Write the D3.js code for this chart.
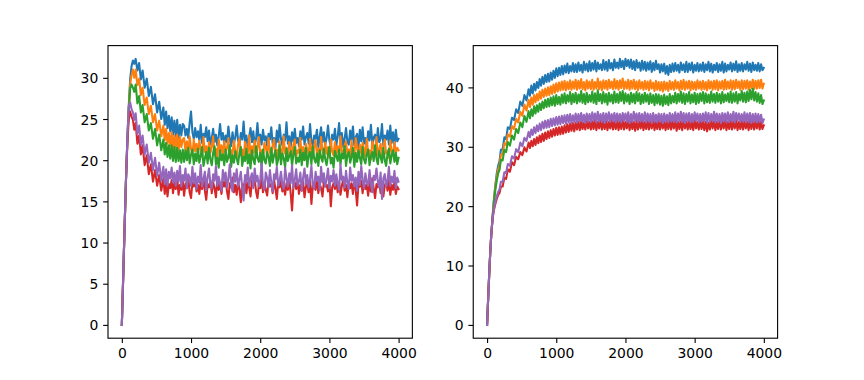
<!DOCTYPE html>
<html>
<head>
<meta charset="utf-8">
<script src="https://cdn.jsdelivr.net/npm/d3@7"></script>
<style>
  html, body { margin: 0; padding: 0; background: #fff; }
  svg { display: block; }
  text { font-family: "DejaVu Sans", sans-serif; font-size: 13.9px; fill: #000; }
</style>
</head>
<body>
<svg id="chart" width="864" height="380"></svg>
<script>
// ---- shared step values (x) ----
const steps = [
  0, 15, 30, 45, 60, 80, 100, 120, 140, 160,
  180, 200, 225, 250, 275, 300, 330, 360, 390, 420,
  450, 480, 510, 540, 570, 600, 620, 640, 660, 680,
  700, 720, 740, 760, 780, 800, 820, 840, 860, 880,
  900, 920, 940, 960, 980, 1000, 1020, 1040, 1060, 1080,
  1100, 1120, 1140, 1160, 1180, 1200, 1220, 1240, 1260, 1280,
  1300, 1320, 1340, 1360, 1380, 1400, 1420, 1440, 1460, 1480,
  1500, 1520, 1540, 1560, 1580, 1600, 1620, 1640, 1660, 1680,
  1700, 1720, 1740, 1760, 1780, 1800, 1820, 1840, 1860, 1880,
  1900, 1920, 1940, 1960, 1980, 2000, 2020, 2040, 2060, 2080,
  2100, 2120, 2140, 2160, 2180, 2200, 2220, 2240, 2260, 2280,
  2300, 2320, 2340, 2360, 2380, 2400, 2420, 2440, 2460, 2480,
  2500, 2520, 2540, 2560, 2580, 2600, 2620, 2640, 2660, 2680,
  2700, 2720, 2740, 2760, 2780, 2800, 2820, 2840, 2860, 2880,
  2900, 2920, 2940, 2960, 2980, 3000, 3020, 3040, 3060, 3080,
  3100, 3120, 3140, 3160, 3180, 3200, 3220, 3240, 3260, 3280,
  3300, 3320, 3340, 3360, 3380, 3400, 3420, 3440, 3460, 3480,
  3500, 3520, 3540, 3560, 3580, 3600, 3620, 3640, 3660, 3680,
  3700, 3720, 3740, 3760, 3780, 3800, 3820, 3840, 3860, 3880,
  3900, 3920, 3940, 3960, 3980, 3999
];

// ---- left panel series ----
const leftBlue = [
  0, 4.4, 8.9, 13.3, 17.6, 22.6, 26.6, 29.8, 31.4, 32.1,
  31.7, 32.3, 30.9, 31.8, 29.8, 30.9, 28.8, 29.9, 27.8, 28.9,
  26.8, 28.0, 25.8, 27.1, 25.0, 26.4, 24.3, 25.9, 23.9, 25.4,
  23.5, 25.2, 23.1, 24.8, 22.9, 24.9, 22.7, 24.3, 23.0, 24.4,
  24.2, 23.0, 23.8, 22.7, 24.5, 25.9, 23.4, 22.6, 23.9, 22.8,
  23.5, 22.4, 24.3, 22.1, 23.2, 22.8, 24.0, 22.3, 23.6, 21.9,
  22.7, 23.8, 22.2, 23.1, 21.8, 22.9, 24.4, 22.5, 23.3, 21.9,
  23.0, 22.2, 24.1, 22.6, 21.7, 23.4, 22.0, 22.8, 24.2, 22.4,
  21.9, 23.3, 22.5, 24.7, 22.1, 23.0, 21.6, 22.8, 23.9, 22.2,
  23.5, 21.8, 22.6, 24.5, 22.3, 23.1, 21.9, 23.7, 22.4, 22.9,
  21.7, 23.2, 22.5, 24.0, 22.0, 22.7, 21.5, 23.6, 22.2, 24.3,
  22.6, 21.8, 23.1, 22.4, 24.6, 22.0, 22.9, 21.6, 23.4, 22.3,
  23.8, 22.1, 22.7, 21.7, 23.5, 22.5, 24.1, 21.9, 22.8, 23.3,
  22.0, 24.4, 22.3, 21.8, 23.0, 22.6, 23.7, 21.6, 22.9, 24.0,
  22.2, 23.4, 21.9, 22.7, 24.2, 22.4, 21.7, 23.1, 22.5, 23.8,
  21.8, 22.9, 24.5, 22.1, 23.3, 21.6, 22.6, 23.9, 22.2, 21.9,
  23.6, 22.4, 24.1, 21.8, 22.8, 23.2, 21.5, 23.7, 22.3, 24.0,
  22.0, 22.7, 21.6, 23.5, 22.4, 24.3, 21.9, 22.8, 23.1, 21.7,
  23.9, 22.2, 22.6, 24.4, 21.8, 23.0, 22.5, 23.6, 21.9, 24.2,
  22.1, 23.4, 21.8, 23.7, 22.3, 22.6
];
const leftOrange = [
  0, 4.4, 8.9, 13.3, 17.6, 22.5, 26.3, 29.2, 30.3, 31.0,
  30.0, 31.0, 29.1, 29.9, 27.9, 28.8, 26.7, 27.6, 25.6, 26.6,
  24.6, 25.6, 23.6, 24.8, 22.9, 24.2, 22.4, 23.8, 22.0, 23.3,
  21.7, 23.4, 21.5, 23.0, 21.4, 23.1, 21.2, 22.8, 21.6, 22.5,
  22.7, 21.0, 22.3, 20.8, 22.9, 21.4, 20.7, 22.5, 21.1, 22.0,
  20.6, 22.4, 21.3, 20.5, 22.8, 21.0, 21.7, 20.4, 22.2, 20.9,
  21.6, 22.9, 20.6, 21.4, 20.2, 22.5, 21.1, 21.8, 20.5, 22.3,
  20.8, 21.5, 22.7, 20.3, 21.2, 20.7, 22.4, 21.0, 20.4, 21.9,
  22.6, 20.6, 21.3, 20.1, 22.2, 21.4, 20.8, 23.0, 20.5, 21.7,
  20.9, 22.4, 20.3, 21.6, 22.8, 20.7, 21.2, 20.2, 22.1, 21.5,
  20.6, 22.7, 21.0, 20.4, 21.8, 22.5, 20.5, 21.3, 20.0, 22.3,
  21.1, 20.6, 22.9, 20.8, 21.5, 20.3, 22.2, 21.4, 20.6, 21.9,
  22.5, 20.4, 21.2, 20.9, 22.7, 20.5, 21.6, 20.1, 22.0, 21.3,
  20.7, 22.6, 21.0, 20.3, 21.8, 22.4, 20.6, 21.4, 20.2, 22.8,
  21.2, 20.5, 22.1, 20.8, 21.6, 20.3, 22.5, 21.0, 20.6, 22.2,
  20.9, 21.7, 20.4, 22.9, 21.1, 20.5, 21.8, 22.3, 20.7, 21.3,
  20.2, 22.4, 21.0, 20.6, 22.7, 21.5, 20.3, 21.9, 20.8, 22.1,
  21.4, 20.5, 22.6, 20.9, 21.2, 20.1, 22.3, 21.6, 20.7, 22.8,
  20.6, 21.3, 22.0, 20.4, 21.7, 22.5, 20.8, 21.1, 20.3, 22.4,
  21.0, 20.6, 22.2, 20.9, 21.5, 21.2
];
const leftGreen = [
  0, 4.4, 8.9, 13.3, 17.6, 22.4, 26.0, 28.7, 29.2, 28.8,
  28.3, 29.2, 26.9, 27.8, 25.8, 26.7, 24.6, 25.6, 23.6, 24.5,
  22.6, 23.8, 21.8, 23.1, 21.2, 22.5, 20.7, 22.1, 20.4, 21.8,
  20.2, 21.8, 19.9, 21.6, 19.8, 21.5, 19.9, 21.2, 19.7, 21.3,
  19.8, 21.2, 20.0, 21.5, 19.6, 20.7, 21.3, 19.5, 20.8, 19.9,
  21.4, 19.7, 20.5, 21.6, 19.3, 20.2, 21.0, 19.6, 21.5, 20.1,
  19.4, 20.9, 21.7, 19.5, 20.3, 19.1, 21.2, 20.0, 20.7, 19.4,
  21.3, 19.8, 20.4, 21.8, 19.2, 20.6, 19.7, 21.1, 20.2, 19.5,
  20.9, 21.6, 19.3, 20.4, 19.9, 21.4, 19.6, 20.7, 19.0, 21.2,
  20.1, 19.5, 21.7, 20.3, 19.8, 20.9, 19.2, 21.3, 20.0, 19.6,
  21.0, 20.4, 19.3, 21.5, 19.7, 20.6, 21.2, 19.4, 20.1, 21.8,
  19.5, 20.8, 20.2, 19.1, 21.4, 19.9, 20.5, 21.1, 19.3, 20.7,
  21.6, 19.6, 20.3, 19.8, 21.3, 19.4, 20.9, 20.0, 21.5, 19.2,
  20.6, 21.0, 19.5, 21.7, 20.2, 19.7, 20.8, 19.3, 21.2, 20.4,
  19.8, 21.4, 20.1, 19.4, 20.7, 21.6, 19.6, 20.3, 19.1, 21.1,
  20.5, 19.9, 21.3, 19.5, 20.8, 20.2, 21.7, 19.3, 20.6, 21.0,
  19.7, 20.4, 21.5, 19.2, 20.9, 19.8, 21.2, 20.3, 19.5, 21.6,
  20.1, 19.6, 20.7, 21.3, 19.4, 20.5, 21.0, 19.9, 21.8, 20.2,
  19.5, 21.1, 20.4, 19.7, 21.5, 20.0, 19.3, 20.8, 21.4, 19.6,
  20.6, 21.2, 19.8, 20.9, 19.5, 20.3
];
const leftRed = [
  0, 4.4, 8.9, 13.3, 17.6, 22.0, 25.0, 25.9, 25.3, 24.9,
  23.7, 24.5, 22.0, 23.0, 20.7, 21.8, 19.4, 20.6, 18.3, 19.5,
  17.4, 18.8, 16.9, 18.2, 16.3, 17.8, 15.9, 17.3, 15.6, 17.1,
  16.6, 17.6, 16.0, 17.3, 16.5, 17.8, 15.8, 17.0, 16.4, 17.5,
  15.7, 17.2, 16.6, 17.9, 16.1, 15.4, 17.3, 16.8, 17.6, 16.2,
  17.0, 15.9, 17.4, 16.5, 17.8, 16.3, 15.2, 17.1, 16.7, 17.5,
  16.0, 17.3, 16.6, 15.5, 17.7, 16.4, 17.0, 15.9, 17.4, 16.8,
  17.6, 16.2, 15.3, 17.2, 16.7, 17.9, 16.1, 17.0, 15.8, 17.4,
  16.5, 14.9, 17.1, 16.3, 17.6, 16.0, 17.3, 16.7, 15.6, 17.5,
  16.9, 17.7, 16.2, 15.4, 17.0, 16.6, 17.8, 16.1, 17.2, 16.4,
  15.7, 17.4, 16.8, 17.1, 16.0, 17.6, 16.5, 15.3, 17.3, 16.7,
  17.5, 16.2, 16.9, 15.8, 17.2, 16.4, 17.7, 16.0, 13.9, 16.9,
  17.3, 16.5, 17.6, 15.9, 17.0, 16.3, 17.4, 15.5, 16.8, 17.2,
  16.1, 17.5, 14.7, 16.9, 17.3, 16.4, 17.8, 16.0, 17.1, 16.6,
  15.6, 17.4, 16.8, 17.0, 16.2, 17.6, 14.4, 16.7, 17.2, 16.5,
  17.5, 16.1, 17.3, 15.8, 16.9, 17.7, 16.3, 17.0, 15.5, 17.4,
  16.6, 17.2, 15.9, 17.6, 16.4, 14.5, 17.1, 16.8, 17.5, 16.0,
  17.3, 16.5, 17.0, 15.7, 17.4, 16.2, 17.8, 16.6, 15.4, 17.1,
  16.7, 17.5, 16.0, 17.2, 15.6, 16.9, 17.4, 16.3, 17.6, 15.8,
  17.0, 16.4, 17.3, 15.9, 16.8, 16.5
];
const leftPurple = [
  0, 4.4, 8.9, 13.3, 17.6, 22.6, 26.6, 27.0, 26.2, 25.8,
  24.9, 25.7, 23.2, 24.2, 21.9, 23.0, 20.7, 21.9, 19.7, 20.9,
  18.8, 20.3, 18.1, 19.7, 17.5, 19.2, 17.1, 18.9, 16.9, 18.6,
  17.8, 19.1, 17.3, 18.5, 16.9, 18.7, 17.4, 19.3, 16.8, 18.2,
  17.5, 19.0, 16.6, 18.3, 17.9, 16.9, 19.2, 17.2, 18.4, 16.5,
  18.0, 17.3, 19.4, 16.8, 17.7, 18.6, 16.4, 17.9, 19.0, 17.1,
  16.6, 18.3, 17.5, 19.3, 16.9, 18.0, 17.2, 16.3, 18.8, 17.6,
  18.5, 16.7, 17.8, 19.5, 17.0, 16.2, 18.4, 17.4, 18.9, 16.8,
  17.7, 18.6, 16.5, 15.1, 18.2, 17.3, 19.1, 16.9, 17.8, 18.4,
  16.6, 19.0, 17.4, 18.1, 16.8, 17.6, 19.6, 17.1, 16.4, 18.5,
  17.9, 16.7, 18.8, 17.3, 16.2, 18.3, 17.7, 19.2, 16.9, 17.5,
  18.6, 17.0, 16.5, 19.1, 17.8, 16.8, 18.4, 17.2, 19.4, 16.6,
  17.6, 18.9, 16.9, 17.4, 18.5, 16.3, 17.9, 19.0, 17.1, 18.2,
  16.7, 17.8, 19.3, 17.0, 16.5, 18.6, 17.5, 18.0, 16.4, 19.2,
  17.3, 18.4, 16.8, 17.7, 19.0, 16.6, 18.1, 17.4, 18.8, 16.9,
  18.3, 17.1, 16.4, 19.5, 17.6, 18.0, 16.7, 18.7, 17.2, 16.5,
  19.1, 17.5, 18.2, 16.8, 17.9, 16.3, 18.6, 17.0, 19.3, 17.7,
  16.6, 18.4, 17.3, 16.9, 18.8, 17.2, 16.1, 18.1, 17.6, 19.0,
  17.4, 16.7, 18.5, 15.3, 17.8, 18.3, 16.8, 17.5, 19.2, 16.9,
  18.0, 17.3, 18.7, 16.6, 17.9, 17.4
];

// ---- right panel series ----
const rightBlue = [
  0, 4.2, 8.3, 12.0, 15.1, 18.2, 21.3, 23.6, 25.5, 26.8,
  27.6, 29.5, 29.6, 31.6, 31.3, 33.3, 33.0, 34.9, 34.5, 36.3,
  35.7, 37.6, 36.9, 38.7, 37.8, 39.7, 38.6, 40.3, 39.0, 40.6,
  39.5, 40.9, 39.9, 41.4, 40.3, 41.8, 40.6, 42.1, 40.9, 42.3,
  41.0, 42.5, 41.3, 42.8, 41.6, 43.2, 41.9, 43.3, 42.1, 43.6,
  42.2, 43.7, 42.5, 44.0, 42.4, 43.6, 42.7, 44.1, 42.6, 43.9,
  42.6, 44.2, 42.8, 43.8, 42.5, 44.3, 42.9, 44.0, 42.7, 44.4,
  42.8, 44.1, 43.0, 44.5, 42.7, 44.2, 43.1, 43.9, 42.9, 44.6,
  43.0, 44.3, 42.8, 44.6, 43.2, 44.1, 42.9, 44.7, 43.3, 44.2,
  43.2, 44.8, 43.4, 44.5, 43.1, 44.8, 43.6, 44.6, 43.3, 44.7,
  43.1, 44.4, 42.9, 44.6, 43.3, 44.2, 42.8, 44.5, 43.0, 44.3,
  42.8, 44.2, 43.0, 44.4, 42.6, 44.1, 42.9, 44.5, 43.1, 43.9,
  42.5, 43.9, 42.7, 44.0, 42.3, 43.6, 42.1, 43.8, 42.6, 44.0,
  42.7, 44.1, 42.8, 43.8, 42.5, 44.2, 42.9, 43.9, 42.6, 44.3,
  42.6, 44.0, 42.9, 44.2, 42.5, 43.8, 42.8, 44.1, 42.7, 43.9,
  42.8, 44.2, 42.6, 43.9, 42.9, 44.3, 42.7, 44.0, 42.5, 43.8,
  42.9, 44.1, 42.6, 43.9, 42.8, 44.3, 42.5, 44.0, 42.7, 43.8,
  43.0, 44.2, 42.7, 44.0, 42.9, 44.4, 42.6, 43.9, 42.8, 44.1,
  42.7, 43.9, 43.0, 44.3, 42.8, 44.0, 42.6, 44.2, 42.9, 43.8,
  42.8, 44.1, 42.7, 43.9, 42.9, 43.3
];
const rightOrange = [
  0, 4.2, 8.3, 12.0, 15.1, 18.2, 21.0, 23.3, 24.9, 26.2,
  26.9, 28.7, 28.7, 30.6, 30.3, 32.1, 31.7, 33.5, 33.0, 34.7,
  34.1, 35.9, 35.2, 37.1, 36.1, 37.9, 36.7, 38.3, 37.1, 38.7,
  37.5, 38.9, 37.8, 39.3, 38.1, 39.6, 38.4, 39.8, 38.6, 40.0,
  38.7, 40.2, 38.9, 40.5, 39.1, 40.7, 39.3, 40.8, 39.5, 41.0,
  39.6, 41.1, 39.5, 40.9, 39.7, 41.2, 39.6, 41.0, 39.8, 41.3,
  39.6, 41.1, 39.8, 41.4, 39.7, 40.9, 39.5, 41.2, 39.8, 41.0,
  39.7, 41.3, 39.6, 40.9, 39.8, 41.5, 39.7, 41.0, 39.5, 41.2,
  39.8, 41.1, 39.6, 41.3, 39.9, 41.0, 39.7, 41.4, 39.8, 41.1,
  39.6, 41.2, 39.9, 41.5, 39.7, 41.0, 39.8, 41.3, 39.6, 41.1,
  39.8, 41.3, 39.7, 41.0, 39.5, 41.2, 39.8, 40.9, 39.6, 41.1,
  39.7, 41.0, 39.5, 41.2, 39.8, 40.8, 39.4, 41.1, 39.6, 40.9,
  39.5, 40.9, 39.3, 41.0, 39.6, 40.8, 39.4, 41.1, 39.7, 40.9,
  39.6, 41.2, 39.8, 40.9, 39.5, 41.1, 39.7, 41.3, 39.6, 41.0,
  39.8, 41.1, 39.5, 41.0, 39.7, 40.9, 39.6, 41.2, 39.8, 41.0,
  39.6, 41.1, 39.7, 40.9, 39.5, 41.2, 39.8, 41.0, 39.6, 41.1,
  39.7, 41.2, 39.5, 41.0, 39.8, 41.1, 39.6, 41.3, 39.7, 41.0,
  39.8, 41.2, 39.6, 41.1, 39.7, 41.3, 39.9, 41.0, 39.6, 41.2,
  39.7, 41.1, 39.8, 41.2, 39.6, 41.0, 39.9, 41.3, 39.7, 41.1,
  39.8, 41.2, 39.9, 41.3, 39.8, 40.6
];
const rightGreen = [
  0, 4.2, 8.3, 12.0, 15.1, 18.2, 20.8, 22.8, 24.3, 25.5,
  26.1, 27.8, 27.7, 29.5, 29.1, 30.8, 30.2, 31.9, 31.2, 33.0,
  32.3, 34.1, 33.3, 35.2, 34.2, 36.0, 34.8, 36.3, 35.2, 36.8,
  35.6, 37.0, 35.9, 37.3, 36.2, 37.6, 36.5, 37.9, 36.7, 38.1,
  36.8, 38.3, 37.0, 38.5, 36.9, 38.7, 37.2, 38.4, 37.1, 38.8,
  37.4, 39.0, 37.3, 38.7, 37.6, 39.2, 37.2, 38.9, 37.5, 39.1,
  37.3, 38.8, 37.6, 39.4, 37.4, 38.9, 37.2, 39.1, 37.5, 38.7,
  37.6, 39.3, 37.4, 39.0, 37.2, 39.5, 37.7, 38.9, 37.3, 39.2,
  37.5, 38.9, 37.1, 39.1, 37.6, 38.8, 37.3, 39.3, 37.5, 38.9,
  37.4, 39.2, 37.7, 39.4, 37.3, 39.0, 37.6, 38.8, 37.2, 39.1,
  37.5, 38.9, 37.3, 39.2, 37.7, 39.0, 37.2, 38.8, 37.4, 39.1,
  37.6, 38.8, 37.2, 39.0, 37.4, 38.7, 37.0, 38.9, 37.3, 38.8,
  37.1, 38.6, 36.9, 38.8, 37.2, 38.5, 37.0, 38.9, 37.3, 38.6,
  37.5, 39.1, 37.3, 38.9, 37.6, 39.3, 37.4, 39.0, 37.2, 38.9,
  37.6, 39.2, 37.3, 38.8, 37.5, 39.1, 37.2, 38.9, 37.4, 39.0,
  37.7, 39.2, 37.3, 39.0, 37.5, 38.8, 37.4, 39.3, 37.6, 38.9,
  37.4, 39.1, 37.6, 38.9, 37.3, 39.2, 37.5, 38.8, 37.7, 39.0,
  37.5, 39.3, 37.4, 39.0, 37.6, 39.2, 37.3, 38.9, 37.8, 39.4,
  37.6, 39.1, 37.5, 39.3, 37.7, 39.6, 38.0, 39.8, 37.8, 39.2,
  37.6, 39.0, 37.4, 38.7, 37.2, 37.8
];
const rightRed = [
  0, 4.2, 8.3, 12.0, 15.0, 17.9, 19.4, 20.4, 21.2, 21.9,
  22.2, 23.3, 23.3, 24.8, 24.6, 26.2, 25.8, 27.4, 26.9, 28.3,
  27.9, 29.1, 28.6, 29.9, 29.2, 30.7, 29.8, 31.0, 30.1, 31.3,
  30.3, 31.6, 30.6, 31.9, 30.8, 32.2, 31.0, 32.4, 31.3, 32.6,
  31.5, 32.8, 31.7, 33.0, 31.9, 33.2, 32.0, 33.3, 32.1, 33.4,
  32.2, 33.6, 32.4, 33.8, 32.5, 33.9, 32.7, 34.0, 32.6, 34.1,
  32.9, 34.2, 32.8, 34.3, 33.0, 34.1, 32.9, 34.4, 33.1, 34.2,
  32.9, 34.3, 33.0, 34.5, 32.8, 34.2, 33.1, 34.4, 32.9, 34.3,
  33.0, 34.4, 32.8, 34.2, 33.1, 34.5, 32.9, 34.3, 33.0, 34.4,
  32.8, 34.3, 33.0, 34.6, 32.9, 34.2, 33.1, 34.4, 32.8, 34.3,
  33.0, 34.2, 32.7, 34.4, 32.9, 34.3, 33.1, 34.5, 32.8, 34.2,
  33.0, 34.4, 32.9, 34.3, 33.1, 34.5, 32.8, 34.2, 33.0, 34.4,
  32.9, 34.3, 33.1, 34.2, 32.8, 34.4, 33.0, 34.5, 32.9, 34.3,
  33.1, 34.4, 32.7, 34.2, 33.0, 34.3, 32.8, 34.5, 33.1, 34.2,
  32.9, 34.4, 33.0, 34.3, 32.8, 34.5, 33.1, 34.2, 32.9, 34.4,
  33.0, 34.3, 32.8, 34.2, 32.6, 34.1, 32.9, 34.4, 33.1, 34.3,
  32.8, 34.2, 33.0, 34.5, 32.9, 34.3, 33.1, 34.4, 32.8, 34.2,
  33.0, 34.4, 32.9, 34.3, 33.1, 34.5, 32.8, 34.2, 33.0, 34.4,
  32.9, 34.3, 33.1, 34.2, 32.8, 34.4, 33.0, 34.5, 32.9, 34.3,
  33.1, 34.4, 32.9, 34.2, 33.0, 33.6
];
const rightPurple = [
  0, 4.2, 8.3, 12.0, 15.1, 18.0, 19.6, 20.8, 21.6, 22.4,
  22.8, 24.1, 24.1, 25.7, 25.6, 27.1, 26.8, 28.4, 28.0, 29.6,
  29.1, 30.7, 30.1, 31.5, 31.0, 32.5, 31.6, 32.9, 32.0, 33.3,
  32.3, 33.6, 32.6, 33.9, 32.8, 34.2, 33.1, 34.4, 33.2, 34.5,
  33.3, 34.7, 33.5, 34.8, 33.6, 35.0, 33.7, 35.1, 33.8, 35.2,
  34.0, 35.3, 33.9, 35.4, 34.1, 35.5, 34.0, 35.3, 34.2, 35.6,
  34.1, 35.5, 34.3, 35.7, 34.2, 35.4, 34.0, 35.6, 34.3, 35.5,
  34.2, 35.8, 34.4, 35.6, 34.1, 35.9, 34.3, 35.5, 34.2, 35.7,
  34.0, 35.6, 34.3, 35.8, 34.2, 35.5, 34.4, 35.7, 34.1, 35.6,
  34.3, 35.5, 34.1, 35.7, 34.4, 35.6, 34.2, 35.8, 34.0, 35.5,
  34.2, 35.9, 34.4, 35.6, 34.1, 35.7, 34.3, 35.5, 34.2, 35.8,
  34.1, 35.6, 34.3, 35.5, 34.0, 35.7, 34.2, 35.4, 34.1, 35.6,
  34.3, 35.5, 34.0, 35.6, 34.2, 35.4, 34.1, 35.7, 34.3, 35.5,
  34.2, 35.8, 34.1, 35.6, 34.3, 35.9, 34.2, 35.7, 34.0, 35.6,
  34.3, 35.7, 34.1, 35.5, 34.2, 35.8, 34.4, 35.6, 34.1, 35.5,
  34.2, 35.6, 34.3, 35.8, 34.1, 35.7, 34.2, 35.5, 34.3, 35.9,
  34.1, 35.6, 34.2, 35.5, 34.0, 35.7, 34.3, 35.6, 34.1, 35.8,
  34.2, 35.5, 34.3, 35.9, 34.1, 35.7, 34.4, 35.6, 34.2, 35.5,
  34.3, 35.8, 34.1, 35.6, 34.2, 35.7, 34.0, 35.5, 34.2, 35.6,
  34.1, 35.5, 34.2, 35.4, 34.0, 34.6
];

// ---- tick labels ----
const xTicks = [0, 1000, 2000, 3000, 4000];
const leftYTicks = [0, 5, 10, 15, 20, 25, 30];
const rightYTicks = [0, 10, 20, 30, 40];

const colors = ["#1f77b4", "#ff7f0e", "#2ca02c", "#d62728", "#9467bd"];

const panels = [
  { series: [leftBlue, leftOrange, leftGreen, leftRed, leftPurple], yTicks: leftYTicks },
  { series: [rightBlue, rightOrange, rightGreen, rightRed, rightPurple], yTicks: rightYTicks }
];

// ---- layout (matplotlib-like subplot params) ----
const W = 864, H = 380;
const padL = 0.125 * W, padR = 0.9 * W, padT = (1 - 0.88) * H, padB = (1 - 0.11) * H;
const axW = (padR - padL) / (2 + 0.2);
const gap = axW * 0.2;

const svg = d3.select("#chart");

function pad(ext) {
  const r = ext[1] - ext[0];
  return [ext[0] - 0.05 * r, ext[1] + 0.05 * r];
}

panels.forEach((p, pi) => {
  const x0 = padL + pi * (axW + gap);
  const x1 = x0 + axW;
  const n = Math.min(steps.length, ...p.series.map(s => s.length));
  const xs = steps.slice(0, n);
  const x = d3.scaleLinear().domain(pad(d3.extent(xs))).range([x0, x1]);
  const allY = p.series.flatMap(s => s.slice(0, n));
  const y = d3.scaleLinear().domain(pad(d3.extent(allY))).range([padB, padT]);

  const g = svg.append("g");

  const line = d3.line()
    .x((d, i) => x(xs[i]))
    .y(d => y(d));

  p.series.forEach((s, si) => {
    g.append("path")
      .datum(s.slice(0, n))
      .attr("fill", "none")
      .attr("stroke", colors[si])
      .attr("stroke-width", 2.08)
      .attr("stroke-linejoin", "round")
      .attr("stroke-linecap", "square")
      .attr("d", line);
  });

  // x axis
  const xa = g.append("g").attr("transform", `translate(0,${padB})`)
    .call(d3.axisBottom(x).tickValues(xTicks).tickSize(4.86).tickPadding(4.86).tickFormat(d3.format("d")));
  xa.select(".domain").remove();
  xa.selectAll("line").attr("stroke", "#000").attr("stroke-width", 1.11);
  xa.selectAll("text").attr("fill", "#000").attr("font-size", "13.9px")
    .attr("font-family", "DejaVu Sans, sans-serif").attr("dy", "0.76em");

  // y axis
  const ya = g.append("g").attr("transform", `translate(${x0},0)`)
    .call(d3.axisLeft(y).tickValues(p.yTicks).tickSize(4.86).tickPadding(4.86).tickFormat(d3.format("d")));
  ya.select(".domain").remove();
  ya.selectAll("line").attr("stroke", "#000").attr("stroke-width", 1.11);
  ya.selectAll("text").attr("fill", "#000").attr("font-size", "13.9px")
    .attr("font-family", "DejaVu Sans, sans-serif").attr("dy", "0.36em");

  // spines
  g.append("rect")
    .attr("x", x0).attr("y", padT)
    .attr("width", axW).attr("height", padB - padT)
    .attr("fill", "none").attr("stroke", "#000").attr("stroke-width", 1.11);
});
</script>
</body>
</html>
